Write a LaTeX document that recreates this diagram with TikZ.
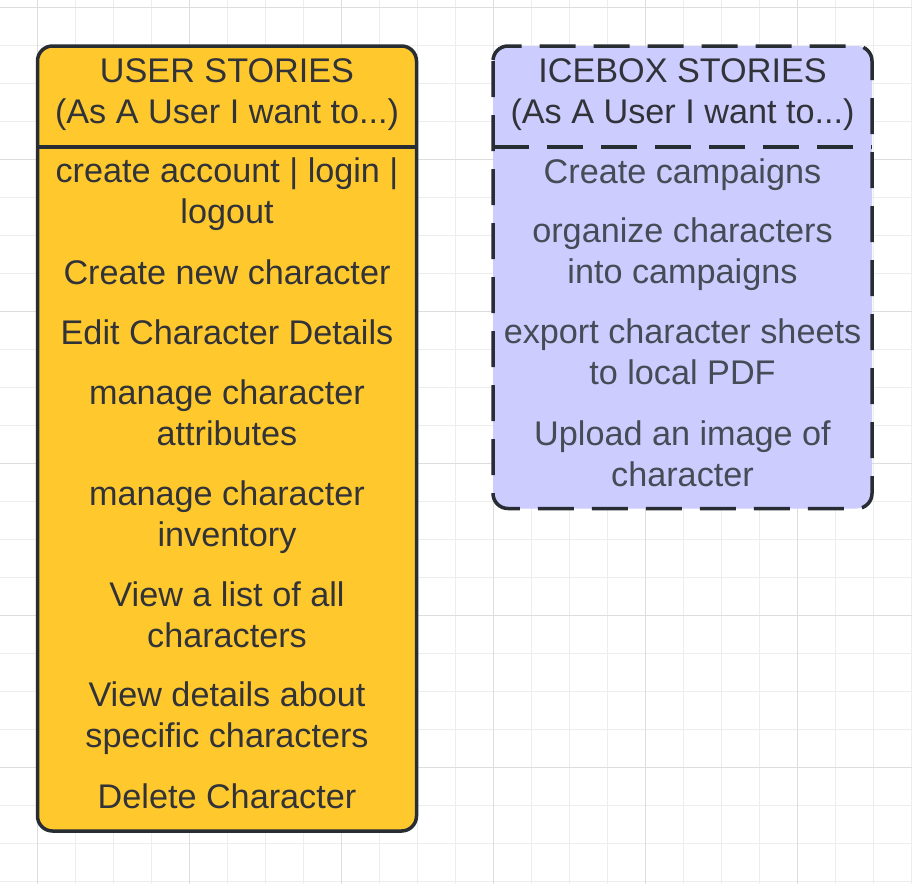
\documentclass[tikz,border=0pt]{standalone}
\usepackage{fontspec}
\setmainfont{Liberation Sans}
\usetikzlibrary{positioning}
\definecolor{storyyellow}{HTML}{FFC92E}
\definecolor{iceblue}{HTML}{CCCCFF}
\definecolor{edgegray}{HTML}{282C33}
\definecolor{inkdark}{HTML}{313338}
\definecolor{inkgray}{HTML}{464C56}
\definecolor{gridminor}{HTML}{EDEDED}
\definecolor{gridmajor}{HTML}{DDDDDD}

\begin{document}
\begin{tikzpicture}
    [
    x=1pt,y=-1pt,
    minorline/.style={gridminor,line width=1pt},
    majorline/.style={gridmajor,line width=1pt},
    storybox/.style={draw=edgegray,line width=3.5pt,rounded corners=15pt},
    icebox/.style={storybox,dash pattern=on 36pt off 18pt},
    story/.style={inner sep=0pt,align=center,anchor=base,text=inkdark,
      font=\fontsize{34.2}{40.5}\selectfont},
    ice/.style={story,text=inkgray},
    ]
    \useasboundingbox (0,0) rectangle (912,884);
    \fill [white] (0,0) rectangle (912,884);

    % grid
    \foreach \k in {0,...,23} \draw [minorline] (37+38*\k,0) -- (37+38*\k,884);
    \foreach \k in {0,...,23} \draw [minorline] (0,7+38*\k) -- (912,7+38*\k);
    \foreach \k in {0,...,5} \draw [majorline] (37+152*\k,0) -- (37+152*\k,884);
    \foreach \k in {0,...,5} \draw [majorline] (0,7+152*\k) -- (912,7+152*\k);

    % user stories (node base = last line)
    \draw [storybox,fill=storyyellow] (37.5,46) rectangle (416.5,831);
    \draw [edgegray,line width=3.5pt] (37.5,147) -- (416.5,147);
    \node (us-head) at (227,123) [story] {USER STORIES\\(As A User I want to...)};
    \node (us-1) at (227,223) [story] {create account | login |\\logout};
    \node (us-2) at (227,284) [story] {Create new character};
    \node (us-3) at (227,344) [story] {Edit Character Details};
    \node (us-4) at (227,445) [story] {manage character\\attributes};
    \node (us-5) at (227,546) [story] {manage character\\inventory};
    \node (us-6) at (227,647) [story] {View a list of all\\characters};
    \node (us-7) at (227,747) [story] {View details about\\specific characters};
    \node (us-8) at (227,808) [story] {Delete Character};

    % icebox stories
    \draw [icebox,fill=iceblue] (493,46) rectangle (872,508.5);
    \draw [edgegray,line width=3.5pt,dash pattern=on 36pt off 18pt] (493,147) -- (872,147);
    \node (ice-head) at (682.5,123) [story] {ICEBOX STORIES\\(As A User I want to...)};
    \node (ice-1) at (682.5,183) [ice] {Create campaigns};
    \node (ice-2) at (682.5,283) [ice] {organize characters\\into campaigns};
    \node (ice-3) at (682.5,384) [ice] {export character sheets\\to local PDF};
    \node (ice-4) at (682.5,486) [ice] {Upload an image of\\character};
  \end{tikzpicture}
\end{document}
